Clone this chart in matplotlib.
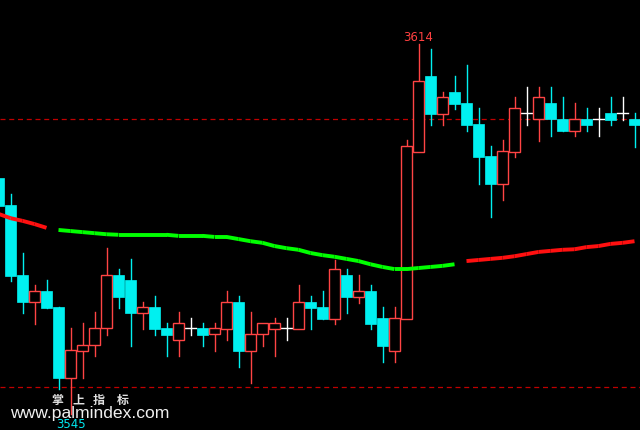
import matplotlib
matplotlib.use("Agg")
import matplotlib.pyplot as plt
from matplotlib.patches import Rectangle

opens = [3589.0, 3584.0, 3570.9, 3565.9, 3567.9, 3564.9, 3551.7, 3556.7, 3557.8, 3561.0,
         3570.9, 3570.0, 3563.8, 3564.9, 3561.0, 3558.8, 3561.0, 3561.0, 3559.9, 3560.8,
         3565.9, 3556.7, 3559.9, 3560.8, 3561.0, 3560.8, 3565.9, 3564.9, 3562.7, 3570.9,
         3566.8, 3567.9, 3562.9, 3556.7, 3562.7, 3593.8, 3608.0, 3600.9, 3605.0, 3603.0,
         3599.1, 3593.1, 3587.9, 3593.8, 3601.1, 3600.0, 3603.0, 3600.0, 3597.8, 3600.0,
         3600.0, 3601.1, 3601.1, 3600.0]
closes = [3583.8, 3570.7, 3565.9, 3567.9, 3564.7, 3551.7, 3556.9, 3557.8, 3561.0, 3570.9,
          3566.8, 3563.8, 3564.9, 3560.8, 3559.7, 3561.9, 3561.0, 3559.7, 3561.0, 3565.9,
          3556.7, 3559.9, 3561.9, 3561.9, 3561.0, 3565.9, 3564.7, 3562.7, 3572.0, 3566.8,
          3567.9, 3561.8, 3557.6, 3562.9, 3595.0, 3607.1, 3600.9, 3604.1, 3602.8, 3598.9,
          3592.9, 3587.9, 3594.0, 3602.1, 3601.1, 3604.1, 3600.0, 3597.8, 3600.0, 3598.9,
          3600.0, 3599.8, 3601.1, 3598.9]
highs = [3590.0, 3586.0, 3575.0, 3569.0, 3570.0, 3564.9, 3561.0, 3561.9, 3564.0, 3575.9,
         3572.0, 3573.9, 3565.9, 3567.0, 3561.9, 3564.0, 3562.9, 3561.9, 3561.9, 3567.9,
         3567.0, 3564.0, 3561.9, 3562.9, 3562.9, 3569.0, 3567.0, 3567.9, 3573.7, 3572.0,
         3570.9, 3569.0, 3564.9, 3564.9, 3596.1, 3614.0, 3613.1, 3605.0, 3608.0, 3610.1,
         3602.1, 3595.0, 3596.1, 3604.1, 3606.0, 3606.0, 3606.0, 3604.1, 3603.0, 3602.1,
         3602.1, 3604.1, 3604.1, 3601.1]
lows = [3583.2, 3569.8, 3563.8, 3561.8, 3564.7, 3549.6, 3545.0, 3551.7, 3555.8, 3559.7,
        3564.7, 3557.6, 3560.8, 3559.7, 3555.8, 3555.8, 3559.7, 3557.6, 3556.7, 3558.8,
        3553.7, 3550.7, 3557.6, 3555.8, 3558.8, 3560.8, 3560.8, 3562.7, 3561.8, 3563.8,
        3565.7, 3560.8, 3554.7, 3554.7, 3562.7, 3593.8, 3598.9, 3598.9, 3601.9, 3597.8,
        3587.9, 3581.7, 3584.9, 3592.9, 3598.9, 3595.9, 3596.8, 3597.8, 3596.8, 3597.8,
        3596.8, 3598.9, 3599.8, 3594.8]
ma = [3582.3, 3581.5, 3581.0, 3580.4, 3579.7, 3579.3, 3579.1, 3578.9, 3578.7, 3578.5,
      3578.4, 3578.4, 3578.4, 3578.4, 3578.4, 3578.2, 3578.2, 3578.2, 3578.0, 3578.0,
      3577.6, 3577.2, 3576.9, 3576.3, 3575.9, 3575.6, 3575.0, 3574.6, 3574.3, 3573.9,
      3573.5, 3572.9, 3572.4, 3572.0, 3572.0, 3572.2, 3572.4, 3572.6, 3572.9, 3573.5,
      3573.7, 3573.9, 3574.1, 3574.4, 3574.8, 3575.2, 3575.4, 3575.6, 3575.7, 3576.1,
      3576.3, 3576.7, 3576.9, 3577.2]
ma_state = ['r'] * 5 + ['g'] * 34 + ['r'] * 15
ref_levels = [3600, 3550]
brand_chars = ["掌", "上", "指", "标"]
brand_url = "www.palmindex.com"

UP = '#ff4444'
DOWN = '#00f0f0'
DOJI = '#ffffff'
BG = '#000000'

fig = plt.figure(figsize=(6.4, 4.31), dpi=100, facecolor=BG)
ax = fig.add_axes([0, 0, 1, 1])
ax.set_facecolor(BG)
ax.set_axis_off()

n = len(opens)
xs = list(range(n))
w = 0.86
wl = 1.0

for lvl in ref_levels:
    ax.axhline(lvl, color='#c00000', lw=0.9, dashes=(4, 3), zorder=1)

for i in xs:
    o, c, h, l = opens[i], closes[i], highs[i], lows[i]
    if c > o:
        col = UP
        ax.plot([i, i], [c, h], color=col, lw=wl, zorder=3)
        ax.plot([i, i], [l, o], color=col, lw=wl, zorder=3)
        ax.add_patch(Rectangle((i - w / 2, o), w, c - o, facecolor=BG,
                               edgecolor=col, lw=1.0, zorder=4))
    elif c < o:
        col = DOWN
        ax.plot([i, i], [l, h], color=col, lw=wl, zorder=3)
        ax.add_patch(Rectangle((i - w / 2, c), w, o - c, facecolor=col,
                               edgecolor=col, lw=0.5, zorder=4))
    else:
        col = DOJI
        ax.plot([i, i], [l, h], color=col, lw=wl, zorder=3)
        ax.plot([i - w / 2, i + w / 2], [o, o], color=col, lw=wl, zorder=3)

# moving average, segments coloured by state
ma_colors = {'r': '#ff1010', 'g': '#00ff00'}
for i in range(n - 1):
    if ma_state[i] == ma_state[i + 1]:
        ax.plot([xs[i], xs[i + 1]], [ma[i], ma[i + 1]],
                color=ma_colors[ma_state[i]], lw=2.8, zorder=5,
                solid_capstyle='butt')

ax.set_xlim(0.125, 53.458)
ax.set_ylim(3541.98, 3622.39)

imax = max(xs, key=lambda k: highs[k])
imin = min(xs, key=lambda k: lows[k])
ax.annotate(f"{highs[imax]:.0f}", xy=(imax, highs[imax]), xytext=(0, 0.5),
            textcoords='offset points', ha='center', va='bottom',
            color='#ff4040', fontsize=8.5, family='DejaVu Sans', zorder=6)

fig.text(10 / 640, 1 - 418.5 / 431, brand_url, ha='left', va='baseline',
         color='#f0f0f0', fontsize=12.6, family='Liberation Sans', zorder=7)
for ch, cx in zip(brand_chars, [57, 78, 99, 122.5]):
    fig.text(cx / 640, 1 - 400.5 / 431, ch, ha='center', va='center',
             color='#e0e0e0', fontsize=8.6, fontweight='bold',
             family=['Noto Sans CJK SC', 'DejaVu Sans'], zorder=7)
ax.annotate(f"{lows[imin]:.0f}", xy=(imin, lows[imin]), xytext=(0, -2),
            textcoords='offset points', ha='center', va='top',
            color='#00e8f0', fontsize=8.5, family='DejaVu Sans', zorder=8)

fig.savefig("out.png", dpi=100, facecolor=BG)
